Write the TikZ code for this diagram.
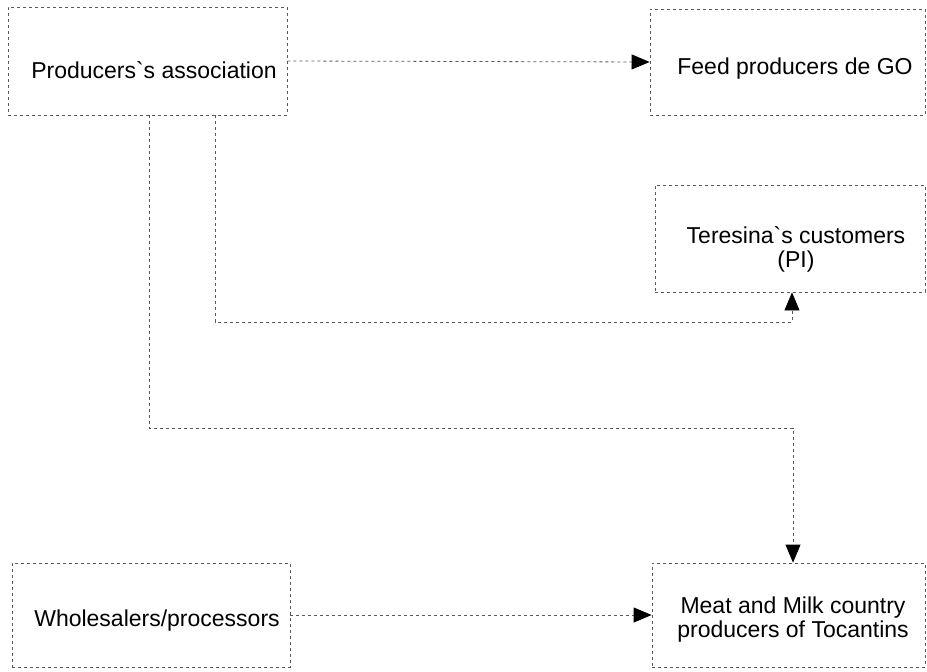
\documentclass[tikz,border=0pt]{standalone}
\usepackage{fontspec}
\setmainfont{Liberation Sans}
\usetikzlibrary{arrows.meta,fit}

\tikzset{
  box/.style={draw=black!65, line width=0.8pt, dash pattern=on 3pt off 3pt,
              rectangle, inner sep=0pt},
  lbl/.style={align=center, inner sep=0pt, text=black,
              font=\fontsize{23}{24}\selectfont},
  conn/.style={draw=black!65, line width=0.8pt, dash pattern=on 3pt off 3pt},
  tip/.style={-{Triangle[length=18pt,width=15pt,fill=black,color=black,sep=0pt]}},
}

\begin{document}
\begin{tikzpicture}[x=1pt,y=-1pt]
  \useasboundingbox (0,0) rectangle (927,672);

  % boxes
  \node[box, fit={(8,7) (287,115)}]    (assoc) {};
  \node[box, fit={(650,9) (925,115)}]  (feed) {};
  \node[box, fit={(655,185) (925,292)}] (teresina) {};
  \node[box, fit={(12,563) (290,667)}] (whole) {};
  \node[box, fit={(652,563) (925,667)}] (meat) {};

  % labels
  \node[lbl] (assocT)    at (154,70)  {Producers\textasciigrave s association};
  \node[lbl] (feedT)     at (795,69)  {Feed producers de GO};
  \node[lbl] (teresinaT) at (796,249) {Teresina\textasciigrave s customers\\(PI)};
  \node[lbl] (wholeT)    at (157,621) {Wholesalers/processors};
  \node[lbl] (meatT)     at (793,620) {Meat and Milk country\\producers of Tocantins};

  % bend points of the routed connectors
  \coordinate (a1) at (149,428);
  \coordinate (a2) at (793,428);
  \coordinate (b1) at (215,322);
  \coordinate (b2) at (792,322);

  % connectors
  \draw[conn, tip] (assoc.east) -- (feed.west);
  \draw[conn, tip] (whole.east) -- (meat.west);
  \draw[conn, tip] (assoc.south -| a1) -- (a1) -- (a2) -- (meat.north -| a2);
  \draw[conn, tip] (assoc.south -| b1) -- (b1) -- (b2) -- (teresina.south -| b2);
\end{tikzpicture}
\end{document}
